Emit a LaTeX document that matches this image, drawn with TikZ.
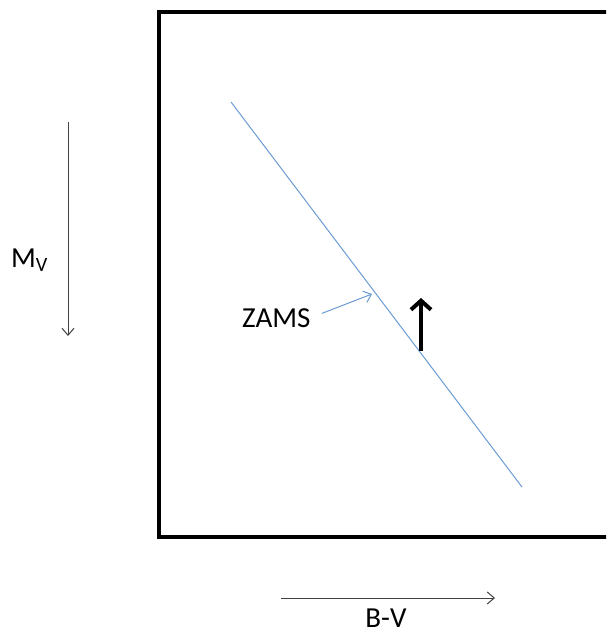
\documentclass[tikz,border=0pt]{standalone}
\usepackage{fontspec}
\setmainfont{Carlito}
\usetikzlibrary{arrows.meta}

\begin{document}
\begin{tikzpicture}[x=1pt, y=-1pt]
    \definecolor{borderColour}{HTML}{000000}
    \definecolor{zamsColour}{HTML}{6A9BD3}
    \definecolor{axisColour}{HTML}{404040}

    \tikzset{
        labelText/.style={font=\fontsize{29}{32}\selectfont, inner sep=0pt},
        thinArrow/.style={-{Straight Barb[length=7pt,width=12pt]}, line width=1pt}
    }

    \useasboundingbox (0,0) rectangle (606,634);
    \clip (0,0) rectangle (606,634);

    % Draw frame (right side runs off the picture)
    \draw[borderColour, line width=3.5pt] (159,12) rectangle (620,537);

    % ZAMS line
    \coordinate (zamsTop) at (231,102);
    \coordinate (zamsBottom) at (522,487);
    \draw[zamsColour, line width=1pt] (zamsTop) -- (zamsBottom);

    % ZAMS label and pointer
    \node[labelText, anchor=base west] (zams) at (242,327) {ZAMS};
    \coordinate (zamsTip) at (372,294);
    \draw[thinArrow, zamsColour, shorten <=12pt] (zams.east) -- (zamsTip);

    % Thick arrow
    \coordinate (moveFrom) at (421,351);
    \coordinate (moveTo) at (421,298);
    \draw[borderColour, line width=4pt, -{Straight Barb[length=9pt,width=20pt]}] (moveFrom) -- (moveTo);

    % Axes
    \coordinate (magTop) at (68,122);
    \coordinate (magBottom) at (68,336);
    \draw[thinArrow, axisColour] (magTop) -- (magBottom);
    \node[labelText, anchor=base west] (magLabel) at (11,267) {M\textsubscript{V}};

    \coordinate (colLeft) at (281,598);
    \coordinate (colRight) at (495,598);
    \draw[thinArrow, axisColour] (colLeft) -- (colRight);
    \node[labelText, anchor=base] (colLabel) at (386,627) {B-V};

\end{tikzpicture}
\end{document}
